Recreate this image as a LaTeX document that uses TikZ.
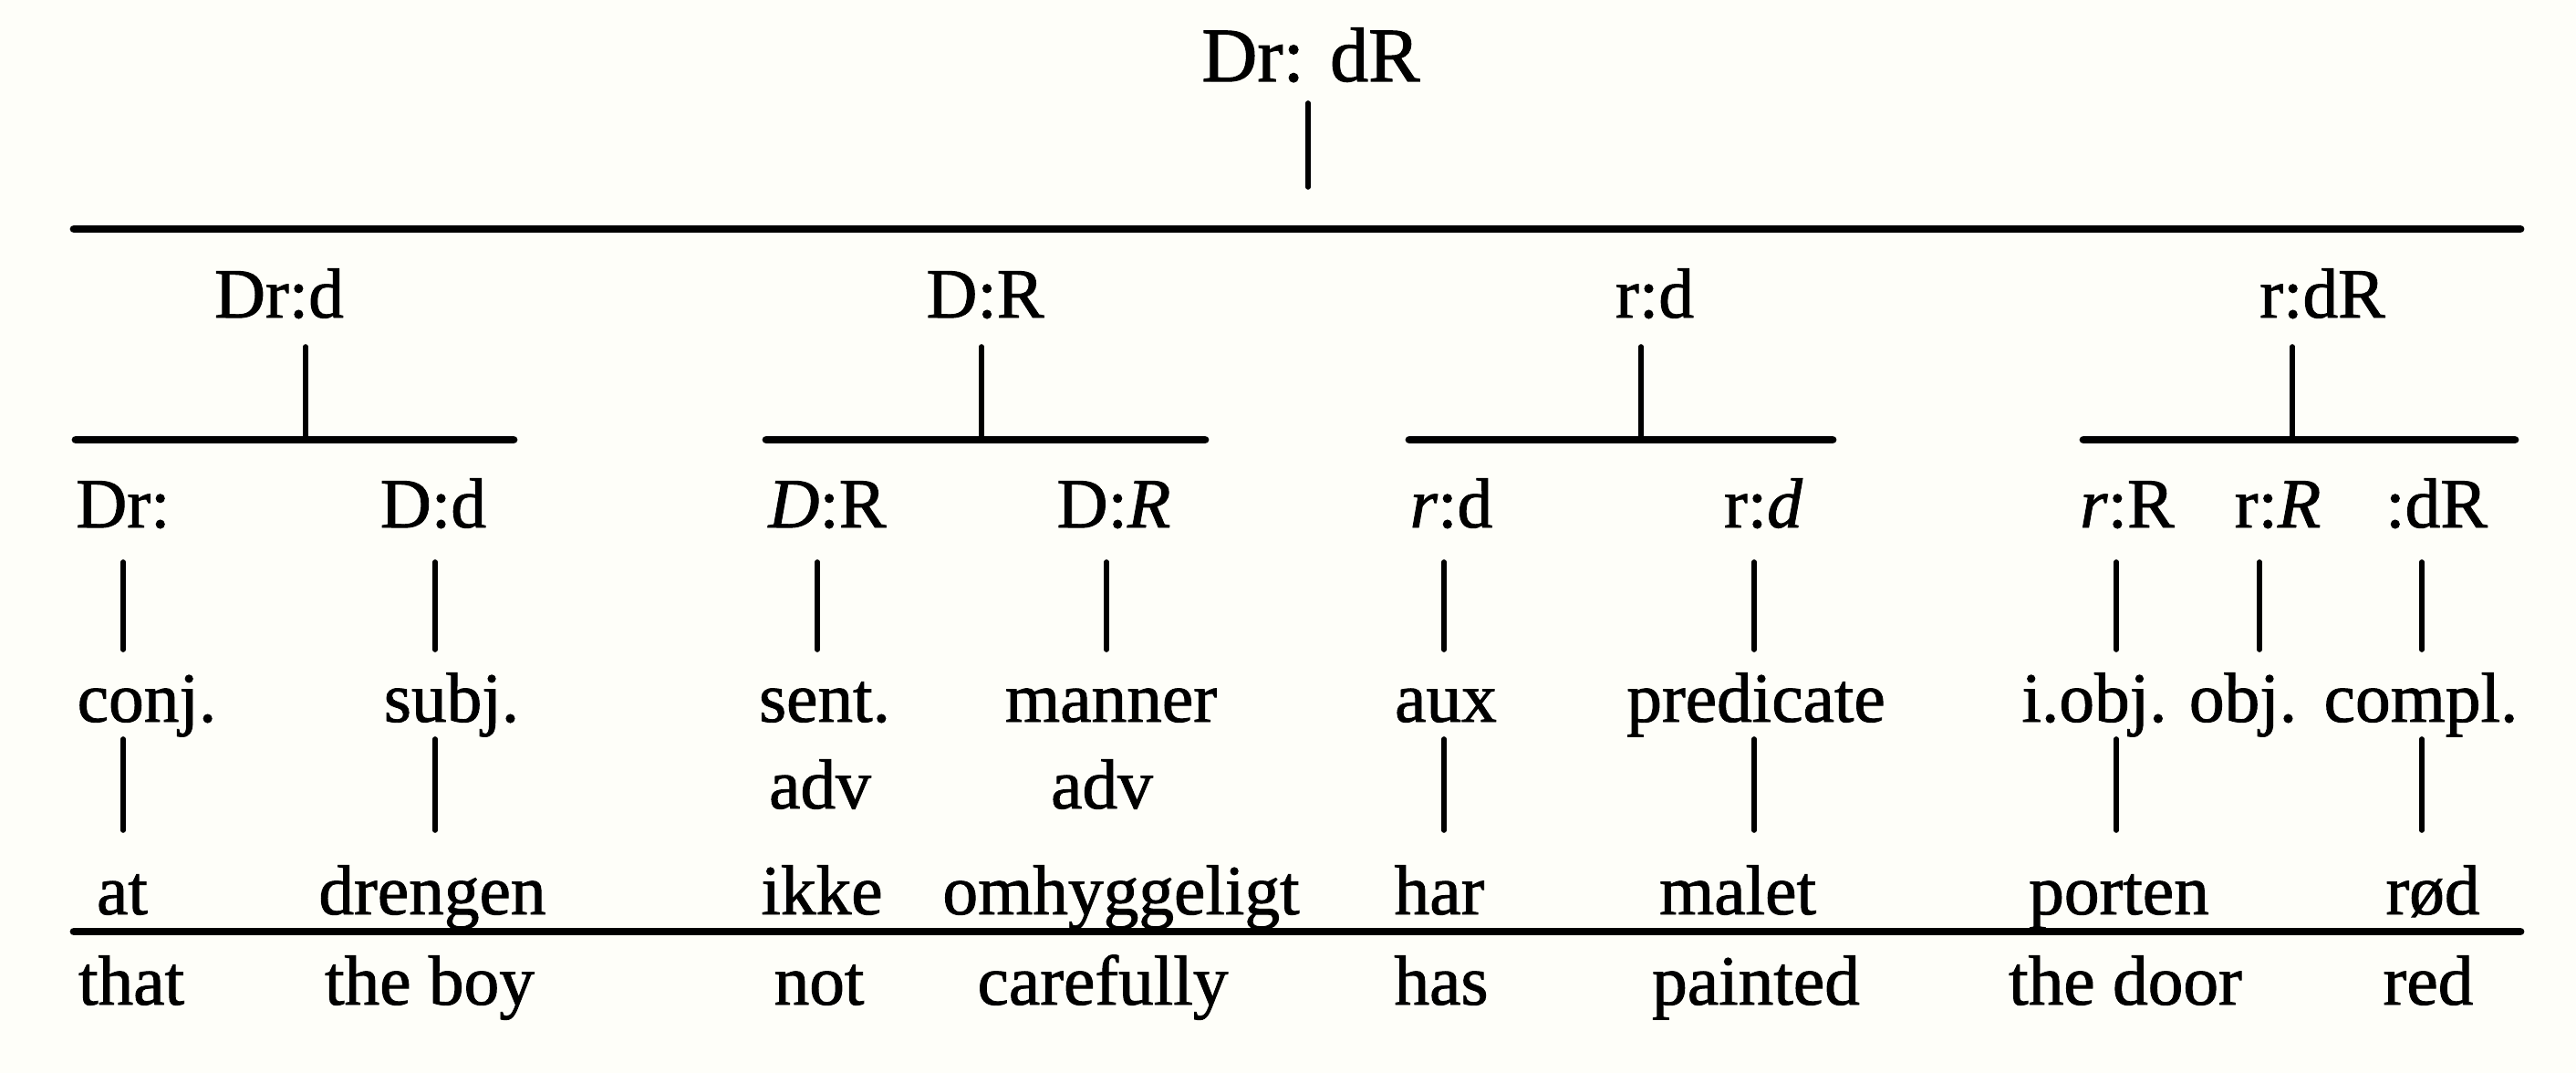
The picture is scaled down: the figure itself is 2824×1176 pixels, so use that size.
\documentclass[tikz,border=0pt]{standalone}
\usepackage{fontspec}
\setmainfont{Liberation Serif}[FakeBold=1.2]
\definecolor{paper}{RGB}{254,254,249}
\begin{document}
\begin{tikzpicture}[x=0.01cm,y=-0.01cm,
  lbl/.style={anchor=base,inner sep=0pt,font=\fontsize{22}{26}\selectfont},
  toplbl/.style={anchor=base,inner sep=0pt,font=\fontsize{24}{28}\selectfont},
  bar/.style={line width=2.5pt,line cap=round},
  vline/.style={line width=1.6pt,line cap=round}]
\fill[paper] (0,0) rectangle (2824,1176);
\useasboundingbox (0,0) rectangle (2824,1176);
% labels
\node[toplbl] (top) at (1437,89) {Dr: dR};
\node[lbl] (n1) at (306,348) {Dr:d};
\node[lbl] (n2) at (1080,348) {D:R};
\node[lbl] (n3) at (1814,348) {r:d};
\node[lbl] (n4) at (2546,348) {r:dR};
\node[lbl] (m1) at (135,578) {Dr:};
\node[lbl] (m2) at (475,578) {D:d};
\node[lbl] (m3) at (907,578) {\textit{D}:R};
\node[lbl] (m4) at (1221,578) {D:\textit{R}};
\node[lbl] (m5) at (1591,578) {\textit{r}:d};
\node[lbl] (m6) at (1933,578) {r:\textit{d}};
\node[lbl] (m7) at (2332,578) {\textit{r}:R};
\node[lbl] (m8) at (2497,578) {r:\textit{R}};
\node[lbl] (m9) at (2671,578) {:dR};
\node[lbl] (f1) at (161,791) {conj.};
\node[lbl] (f2) at (495,791) {subj.};
\node[lbl] (f3) at (904,791) {sent.};
\node[lbl] (f4) at (1218,791) {manner};
\node[lbl] (f5) at (1585,791) {aux};
\node[lbl] (f6) at (1925,791) {predicate};
\node[lbl] (f7) at (2296,791) {i.obj.};
\node[lbl] (f8) at (2459,791) {obj.};
\node[lbl] (f9) at (2654,791) {compl.};
\node[lbl] (a1) at (899,886) {adv};
\node[lbl] (a2) at (1208,886) {adv};
\node[lbl] (w1) at (134,1002) {at};
\node[lbl] (w2) at (474,1002) {drengen};
\node[lbl] (w3) at (901,1002) {ikke};
\node[lbl] (w4) at (1229,1002) {omhyggeligt};
\node[lbl] (w5) at (1578,1002) {har};
\node[lbl] (w6) at (1905,1002) {malet};
\node[lbl] (w7) at (2323,1002) {porten};
\node[lbl] (w8) at (2667,1002) {rød};
\node[lbl] (t1) at (144,1101) {that};
\node[lbl] (t2) at (471,1101) {the boy};
\node[lbl] (t3) at (898,1101) {not};
\node[lbl] (t4) at (1209,1101) {carefully};
\node[lbl] (t5) at (1580,1101) {has};
\node[lbl] (t6) at (1925,1101) {painted};
\node[lbl] (t7) at (2330,1101) {the door};
\node[lbl] (t8) at (2662,1101) {red};
% bars
\coordinate (b0l) at (81,251);  \coordinate (b0r) at (2763,251);
\coordinate (b1l) at (83,482);  \coordinate (b1r) at (563,482);
\coordinate (b2l) at (840,482); \coordinate (b2r) at (1321,482);
\coordinate (b3l) at (1545,482);\coordinate (b3r) at (2009,482);
\coordinate (b4l) at (2284,482);\coordinate (b4r) at (2757,482);
\coordinate (b5l) at (81,1021); \coordinate (b5r) at (2763,1021);
\foreach \b in {b0,b1,b2,b3,b4,b5} \draw[bar] (\b l) -- (\b r);
% vertical connectors
\coordinate (v0a) at (1434,113); \coordinate (v0b) at (1434,205);
\draw[vline] (v0a) -- (v0b);
\foreach \x [count=\i] in {335,1076,1799,2513}{
  \coordinate (u\i a) at (\x,380); \coordinate (u\i b) at (\x,482);
  \draw[vline] (u\i a) -- (u\i b);}
\foreach \x [count=\i] in {135,477,896,1213,1583,1923,2320,2477,2655}{
  \coordinate (p\i a) at (\x,616); \coordinate (p\i b) at (\x,712);
  \draw[vline] (p\i a) -- (p\i b);}
\foreach \x [count=\i] in {135,477,1583,1923,2320,2655}{
  \coordinate (q\i a) at (\x,810); \coordinate (q\i b) at (\x,910);
  \draw[vline] (q\i a) -- (q\i b);}
\end{tikzpicture}
\end{document}
